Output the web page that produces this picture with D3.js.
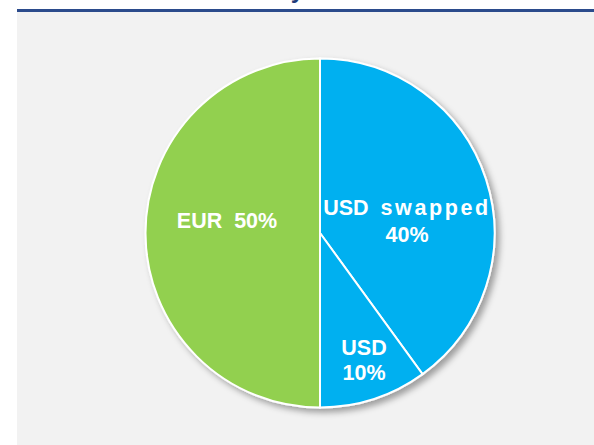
<!DOCTYPE html>
<html>
<head>
<meta charset="utf-8">
<script src="https://cdn.jsdelivr.net/npm/d3@7"></script>
<style>
  body { margin: 0; background: #fff; }
  svg text { font-family: "Liberation Sans", Arial, sans-serif; font-weight: bold; }
</style>
</head>
<body>
<div class="container"></div>
<script>
// slices, clockwise from 12 o'clock
var categories = ["USD swapped", "USD", "EUR"];
var values = [40, 10, 50];
var labels = [["USD swapped", "40%"], ["USD", "10%"], ["EUR  50%"]];
var colors = ["#00b0f0", "#00b0f0", "#92d050"];

var width = 594, height = 445;
var svg = d3.select(".container").append("svg")
  .attr("width", width).attr("height", height);

// shadow filter for the pie
var defs = svg.append("defs");
var f = defs.append("filter").attr("id", "shadow")
  .attr("x", "-20%").attr("y", "-20%").attr("width", "140%").attr("height", "140%");
f.append("feDropShadow").attr("dx", 4).attr("dy", 4).attr("stdDeviation", 3)
  .attr("flood-color", "#000").attr("flood-opacity", 0.35);

// slide title, only the tail of it shows above the rule
svg.append("text").attr("x", 304).attr("y", -2).attr("text-anchor", "end")
  .attr("font-size", 24).attr("fill", "#1f3d7a").text("Currency");
svg.append("rect").attr("x", 17).attr("y", 12).attr("width", width - 17).attr("height", height - 12)
  .attr("fill", "#f2f2f2");
svg.append("rect").attr("x", 17).attr("y", 9).attr("width", width - 17).attr("height", 3)
  .attr("fill", "#2b4b8c");

var cx = 320, cy = 233, r = 174.5;
var pie = d3.pie().sort(null).value(function(d) { return d; });
var arc = d3.arc().innerRadius(0).outerRadius(r);
var arcs = pie(values);

var g = svg.append("g").attr("transform", "translate(" + cx + "," + cy + ")");
g.append("g").attr("filter", "url(#shadow)")
  .selectAll("path").data(arcs).enter().append("path")
  .attr("d", arc)
  .attr("fill", function(d, i) { return colors[i]; })
  .attr("stroke", "#fff").attr("stroke-width", 2);

// label positions (relative to centre)
var labelPos = [[87, -18], [44, 122], [-93, -5]];
var lineH = [27, 25, 0];

g.selectAll("text.lbl").data(arcs).enter().append("text")
  .attr("class", "lbl")
  .attr("text-anchor", "middle")
  .attr("fill", "#fff")
  .attr("font-size", 21.5)
  .each(function(d, i) {
    var t = d3.select(this);
    labels[i].forEach(function(s, j) {
      var ts = t.append("tspan").attr("x", labelPos[i][0]).attr("y", labelPos[i][1] + j * lineH[i])
        .style("white-space", "pre");
      if (s === "USD swapped") {
        // the "swapped" word is spread out in the original
        ts.text("USD  ");
        t.append("tspan").attr("letter-spacing", 2.6).text("swapped");
      } else {
        ts.text(s);
      }
    });
  });
</script>
</body>
</html>
